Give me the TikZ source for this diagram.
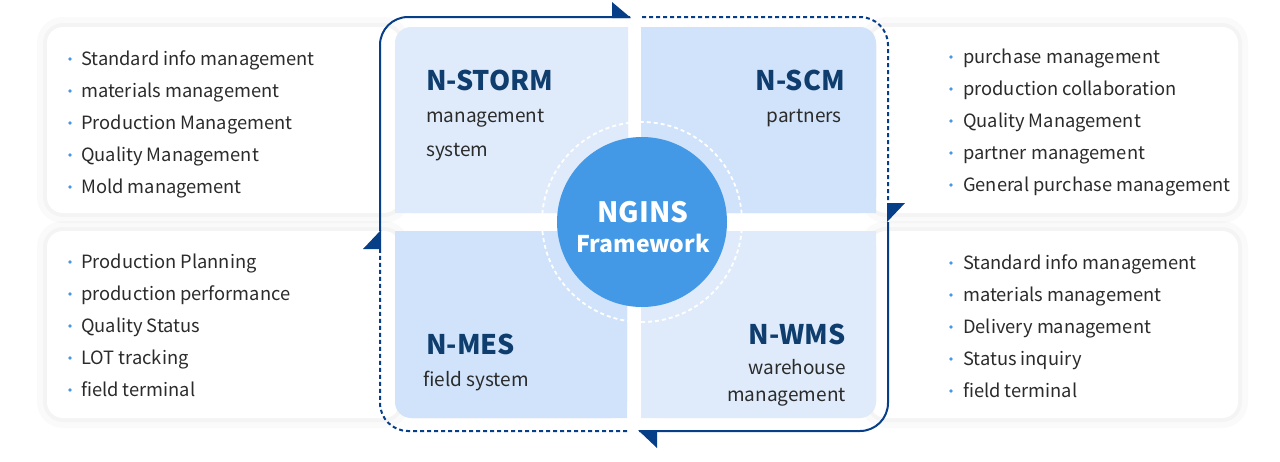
\documentclass[tikz,border=0pt]{standalone}
\usepackage{fontspec}
\setmainfont{Noto Sans CJK KR}
\usetikzlibrary{positioning}
\definecolor{navy}{HTML}{063E87}
\definecolor{titleblue}{HTML}{0F3E6E}
\definecolor{qlight}{HTML}{DFEBFB}
\definecolor{qdark}{HTML}{D0E3FA}
\definecolor{core}{HTML}{4399E5}
\definecolor{txt}{HTML}{2B2B2B}

\begin{document}
\begin{tikzpicture}[x=1pt, y=-1pt,
	panel/.style={fill=white, rounded corners=16,
		preaction={draw=black, draw opacity=.02, line width=20pt},
		preaction={draw=black, draw opacity=.025, line width=8pt}},
	item/.style={anchor=base west, inner sep=0pt, text=txt, font=\fontsize{18.3}{18}\selectfont},
	title/.style={inner sep=0pt, text=titleblue, font=\fontsize{27}{27}\selectfont\bfseries},
	sub/.style={inner sep=0pt, text=txt, font=\fontsize{19}{19}\selectfont},
	frame/.style={draw=navy, line width=2pt, rounded corners=28},
	dots/.style={frame, dash pattern=on 4pt off 3pt},
	tip/.style={fill=navy}]
	\useasboundingbox (0,0) rectangle (1280,461);
	% side panels
	\fill[panel] (47,27) rectangle (400,213);
	\fill[panel] (47,231) rectangle (400,418);
	\fill[panel] (870,27) rectangle (1238,213);
	\fill[panel] (870,231) rectangle (1238,418);
	% quadrants
	\fill[qlight, rounded corners=16] (395,27) rectangle (628,213);
	\fill[qlight] (411,27) rectangle (628,213) (395,43) rectangle (628,213);
	\fill[qdark, rounded corners=16] (641,27) rectangle (876,213);
	\fill[qdark] (641,27) rectangle (860,213) (641,43) rectangle (876,213);
	\fill[qdark, rounded corners=16] (395,231) rectangle (627,418);
	\fill[qdark] (411,231) rectangle (627,418) (395,231) rectangle (627,402);
	\fill[qlight, rounded corners=16] (641,231) rectangle (876,418);
	\fill[qlight] (641,231) rectangle (860,418) (641,231) rectangle (876,402);
	% loop around the quadrants
	\coordinate (w1) at (380,231);
	\coordinate (w2) at (380,249);
	\coordinate (n1) at (630,17);
	\coordinate (n2) at (642,17);
	\coordinate (e1) at (888,204);
	\coordinate (e2) at (888,222);
	\coordinate (s1) at (639,431);
	\coordinate (s2) at (627,431);
	\draw[frame] (w1) |- (n1);
	\draw[dots] (n2) -| (e1);
	\draw[frame] (e2) |- (s1);
	\draw[dots] (s2) -| (w2);
	\fill[tip] (612,2) -- (631,18) -- (612,18) -- cycle;
	\fill[tip] (887,203) -- (905,203) -- (887,222) -- cycle;
	\fill[tip] (657,430) -- (657,448) -- (638,430) -- cycle;
	\fill[tip] (381,249) -- (363,249) -- (381,230) -- cycle;
	% centre
	\draw[white, line width=1.8pt, dash pattern=on 4pt off 3pt] (642,222) circle (100);
	\fill[core] (642,222) circle (85);
	\node[inner sep=0pt, anchor=base, text=white, font=\fontsize{28}{28}\selectfont\bfseries] (ngins) at (643,222) {NGINS};
	\node[inner sep=0pt, anchor=base, text=white, font=\fontsize{23}{23}\selectfont\bfseries] (fw) at (643,252) {Framework};
	% quadrant titles
	\node[title, anchor=base west] (storm) at (426,90) {N-STORM};
	\node[sub, anchor=base west] (storm1) at (426,122) {management};
	\node[sub, anchor=base west] (storm2) at (426,156) {system};
	\node[title, anchor=base east] (scm) at (845,90) {N-SCM};
	\node[sub, anchor=base east] (scm1) at (842,122) {partners};
	\node[title, anchor=base west] (mes) at (426,354) {N-MES};
	\node[sub, anchor=base west] (mes1) at (423,386) {field system};
	\node[title, anchor=base east] (wms) at (846,344) {N-WMS};
	\node[sub, anchor=base east] (wms1) at (846,374) {warehouse};
	\node[sub, anchor=base east] (wms2) at (846,401) {management};
	% bullet lists
	\foreach \t [count=\i] in {Standard info management, materials management,
		Production Management, Quality Management, Mold management} {
		\fill[core] (70,59+32*\i-32) circle (1.8);
		\node[item] (stormlist\i) at (81,65+32*\i-32) {\t};
	}
	\foreach \t [count=\i] in {Production Planning, production performance,
		Quality Status, LOT tracking, field terminal} {
		\fill[core] (70,262+32*\i-32) circle (1.8);
		\node[item] (meslist\i) at (81,268+32*\i-32) {\t};
	}
	\foreach \t [count=\i] in {purchase management, production collaboration,
		Quality Management, partner management, General purchase management} {
		\fill[core] (951,57+32*\i-32) circle (1.8);
		\node[item] (scmlist\i) at (963,63+32*\i-32) {\t};
	}
	\foreach \t [count=\i] in {Standard info management, materials management,
		Delivery management, Status inquiry, field terminal} {
		\fill[core] (951,263+32*\i-32) circle (1.8);
		\node[item] (wmslist\i) at (963,269+32*\i-32) {\t};
	}
\end{tikzpicture}
\end{document}
